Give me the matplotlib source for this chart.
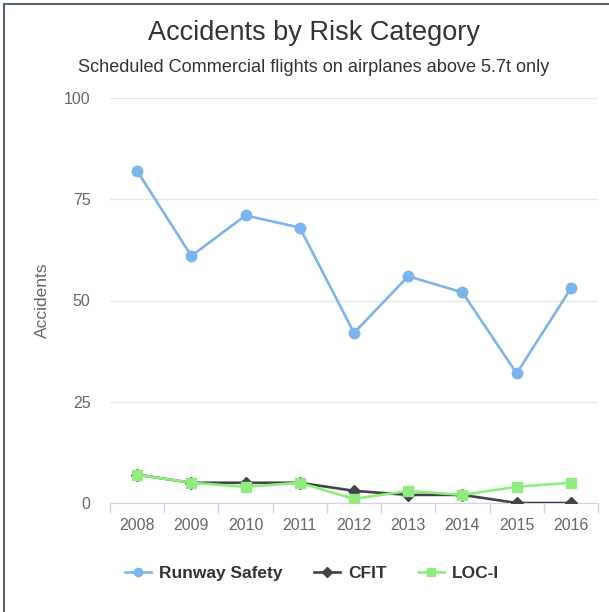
import matplotlib
matplotlib.use("Agg")
import matplotlib.pyplot as plt
from matplotlib.lines import Line2D

plt.rcParams['font.family'] = ['Liberation Sans', 'DejaVu Sans']

years = ['2008', '2009', '2010', '2011', '2012', '2013', '2014', '2015', '2016']
runway_safety = [82, 61, 71, 68, 42, 56, 52, 32, 53]
cfit = [7, 5, 5, 5, 3, 2, 2, 0, 0]
loc_i = [7, 5, 4, 5, 1, 3, 2, 4, 5]
y_ticks = [0, 25, 50, 75, 100]

W, H = 609, 612
fig = plt.figure(figsize=(W / 100, H / 100), dpi=100)
ax = fig.add_axes([110 / W, 1 - 503 / H, (598 - 110) / W, (503 - 98) / H])

x = list(range(len(years)))
ax.plot(x, runway_safety, color='#7cb5ec', lw=1.9, marker='o', ms=7.5,
        label='Runway Safety', zorder=3)
ax.plot(x, cfit, color='#434348', lw=1.9, marker='D', ms=6,
        label='CFIT', zorder=4)
ax.plot(x, loc_i, color='#90ed7d', lw=1.9, marker='s', ms=7,
        label='LOC-I', zorder=5)

ax.set_xlim(-0.5, len(years) - 0.5)
ax.set_ylim(0, 100)
ax.set_yticks(y_ticks)
ax.set_xticks(x)
ax.set_xticklabels(years)
ax.set_xticks([i - 0.5 for i in range(len(years) + 1)], minor=True)
ax.tick_params(axis='x', which='major', length=0, pad=11, labelsize=11.5,
               labelcolor='#666666')
ax.tick_params(axis='x', which='minor', length=7.5, color='#ccd6eb', width=1)
ax.tick_params(axis='y', length=0, pad=14, labelsize=11.5, labelcolor='#666666')
ax.grid(axis='y', color='#e6e6e6', lw=1)
ax.set_axisbelow(True)
for s in ['top', 'right', 'left']:
    ax.spines[s].set_visible(False)
ax.spines['bottom'].set_color('#ccd6eb')
ax.spines['bottom'].set_zorder(2)
ax.spines['bottom'].set_clip_on(False)

ax.set_ylabel('Accidents', fontsize=12.5, color='#666666', labelpad=10)

cx = 314 / W
fig.text(cx, 1 - 33 / H, 'Accidents by Risk Category', ha='center', va='center',
         fontsize=19.5, color='#333333')
fig.text(cx, 1 - 68 / H, 'Scheduled Commercial flights on airplanes above 5.7t only',
         ha='center', va='center', fontsize=13.1, color='#333333')

leg = fig.legend(loc='center', bbox_to_anchor=(312 / W, 1 - 573 / H), ncol=3,
                 frameon=False, prop={'weight': 'bold', 'size': 12.5},
                 handlelength=1.5, columnspacing=1.8, handletextpad=0.45,
                 markerscale=0.8)
for t in leg.get_texts():
    t.set_color('#333333')

# outer border (left and top visible)
fig.add_artist(Line2D([4 / W, 4 / W], [0, 1 - 4 / H], color='#5a6470', lw=1.5))
fig.add_artist(Line2D([4 / W, 1], [1 - 4 / H, 1 - 4 / H], color='#5a6470', lw=1.5))

fig.savefig('out.png', dpi=100)
